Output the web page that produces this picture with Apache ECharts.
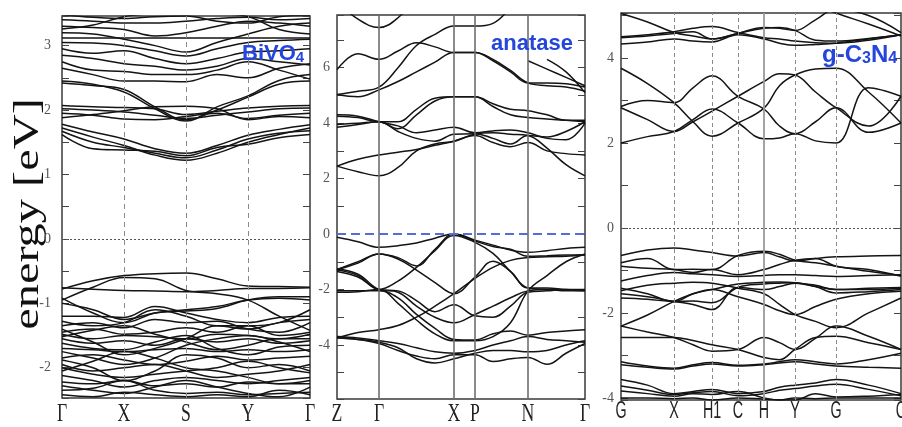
<!DOCTYPE html>
<html>
<head>
<meta charset="utf-8">
<title>Band structures</title>
<script src="https://cdn.jsdelivr.net/npm/echarts@6/dist/echarts.min.js"></script>
<style>
  html, body { margin: 0; padding: 0; background: #fff; }
  #chart { width: 902px; height: 427px; }
</style>
</head>
<body>
<div id="chart"></div>
<script>
// ---- BiVO4 : path Γ-X-S-Y-Γ ----
const bivoK = [0, 0.5, 1, 1.5, 2, 2.5, 3, 3.5, 4]
const bivoSym = [0, 1, 2, 3, 4]
const bivoLabels = ['Γ', 'X', 'S', 'Y', 'Γ']
const bivoCond = [
  [1.72, 1.58, 1.45, 1.30, 1.22, 1.33, 1.50, 1.62, 1.72],
  [1.67, 1.50, 1.42, 1.33, 1.26, 1.38, 1.55, 1.64, 1.68],
  [1.62, 1.40, 1.38, 1.36, 1.29, 1.42, 1.47, 1.57, 1.62],
  [1.78, 1.66, 1.55, 1.40, 1.33, 1.45, 1.61, 1.70, 1.77],
  [2.02, 2.00, 1.97, 1.92, 1.87, 1.92, 1.97, 2.02, 2.03],
  [1.95, 1.92, 1.86, 1.85, 1.90, 1.95, 1.87, 1.92, 1.95],
  [2.07, 2.05, 2.04, 2.02, 1.93, 1.98, 2.03, 2.06, 2.07],
  [1.88, 1.93, 1.99, 2.05, 2.06, 2.02, 1.85, 1.90, 1.88],
  [2.42, 2.38, 2.32, 2.05, 1.85, 2.00, 2.20, 2.40, 2.45],
  [2.45, 2.40, 2.28, 2.02, 1.83, 2.05, 2.22, 2.46, 2.55],
  [2.65, 2.55, 2.45, 2.45, 2.44, 2.55, 2.50, 2.65, 2.72],
  [2.75, 2.62, 2.60, 2.55, 2.55, 2.62, 2.75, 2.62, 2.48],
  [2.85, 2.80, 2.72, 2.68, 2.62, 2.68, 2.80, 2.75, 2.70],
  [2.95, 2.88, 2.92, 2.80, 2.72, 2.80, 2.90, 2.92, 2.95],
  [3.05, 3.04, 3.00, 2.92, 2.84, 2.95, 3.05, 3.08, 3.10],
  [3.12, 3.12, 3.12, 3.12, 3.12, 3.12, 3.12, 3.12, 3.12],
  [3.20, 3.18, 3.10, 3.00, 2.90, 3.05, 3.18, 3.30, 3.35],
  [3.30, 3.28, 3.25, 3.15, 3.20, 3.30, 3.38, 3.35, 3.30],
  [3.40, 3.38, 3.35, 3.35, 3.38, 3.42, 3.44, 3.40, 3.42],
  [3.48, 3.44, 3.42, 3.45, 3.46, 3.38, 3.35, 3.45, 3.47],
  [3.26, 3.32, 3.45, 3.50, 3.55, 3.50, 3.45, 3.25, 3.18]
]
const bivoVal = [
  [-0.78, -0.65, -0.57, -0.54, -0.53, -0.62, -0.73, -0.74, -0.75],
  [-0.76, -0.78, -0.80, -0.81, -0.82, -0.80, -0.77, -0.77, -0.76],
  [-0.95, -0.75, -0.60, -0.62, -0.80, -0.85, -0.95, -1.20, -1.42],
  [-0.92, -1.15, -1.30, -1.15, -1.10, -1.05, -0.95, -0.92, -0.95],
  [-1.00, -1.10, -1.25, -1.15, -1.12, -1.08, -0.95, -0.90, -0.90],
  [-1.20, -1.20, -1.22, -1.05, -1.15, -1.25, -1.30, -1.22, -1.20],
  [-1.28, -1.35, -1.30, -1.10, -1.20, -1.35, -1.35, -1.30, -1.10],
  [-1.35, -1.30, -1.38, -1.25, -1.30, -1.28, -1.40, -1.45, -1.30],
  [-1.45, -1.40, -1.48, -1.45, -1.38, -1.45, -1.35, -1.50, -1.45],
  [-1.48, -1.55, -1.50, -1.52, -1.55, -1.48, -1.50, -1.55, -1.48],
  [-1.55, -1.62, -1.58, -1.65, -1.55, -1.60, -1.55, -1.62, -1.58],
  [-1.62, -1.70, -1.72, -1.60, -1.50, -1.70, -1.80, -1.68, -1.65],
  [-1.70, -1.72, -1.75, -1.72, -1.70, -1.75, -1.72, -1.75, -1.72],
  [-1.75, -1.85, -1.95, -1.85, -1.65, -1.55, -1.50, -1.60, -1.75],
  [-1.85, -1.80, -1.88, -1.95, -1.90, -1.82, -1.88, -1.85, -1.82],
  [-1.88, -2.00, -2.20, -2.05, -1.80, -1.85, -2.00, -1.95, -2.05],
  [-1.95, -2.05, -2.00, -1.95, -2.05, -2.15, -2.10, -2.05, -1.95],
  [-2.00, -2.10, -2.15, -2.10, -2.05, -2.00, -1.90, -2.00, -2.08],
  [-2.12, -2.20, -2.30, -2.20, -2.15, -2.20, -2.25, -2.20, -2.15],
  [-2.22, -2.25, -2.20, -2.28, -2.25, -2.30, -2.22, -2.25, -2.25],
  [-2.28, -2.35, -2.40, -2.30, -2.20, -2.30, -2.40, -2.45, -2.30],
  [-2.35, -2.32, -2.20, -2.35, -2.40, -2.38, -2.42, -2.40, -2.38],
  [-2.42, -2.45, -2.38, -2.42, -2.45, -2.42, -2.45, -2.35, -2.42],
  [-1.40, -1.60, -1.80, -1.70, -1.55, -1.35, -1.40, -1.30, -1.25],
  [-1.52, -1.42, -1.35, -1.48, -1.60, -1.72, -1.65, -1.55, -1.55],
  [-2.05, -1.90, -1.75, -1.85, -2.00, -2.05, -2.15, -2.25, -2.20]
]

// ---- anatase : path Z-Γ-X-P-N-Γ ----
const anaK = [0, 0.21, 0.42, 0.61, 0.795, 0.98, 1.17, 1.38, 1.56, 1.735, 1.91, 2.10, 2.29, 2.48]
const anaSym = [0, 0.42, 1.17, 1.38, 1.91, 2.48]
const anaLabels = ['Z', 'Γ', 'X', 'P', 'N', 'Γ']
const anaCond = [
  [2.45, 2.25, 2.10, 2.40, 3.00, 3.25, 3.35, 3.60, 3.65, 3.60, 3.55, 3.10, 2.50, 2.10],
  [2.45, 2.70, 2.85, 2.95, 3.05, 3.20, 3.35, 3.55, 3.30, 3.15, 3.30, 3.00, 2.90, 2.85],
  [3.85, 3.95, 4.05, 3.70, 3.45, 3.35, 3.60, 3.62, 3.45, 3.25, 3.55, 3.50, 3.70, 4.05],
  [4.30, 4.25, 4.05, 3.90, 3.65, 3.75, 3.85, 3.65, 3.72, 3.75, 3.65, 3.45, 3.40, 4.00],
  [4.25, 4.20, 4.05, 4.05, 4.50, 4.90, 4.95, 4.95, 4.60, 4.30, 4.20, 4.15, 4.10, 4.05],
  [3.95, 4.00, 4.05, 3.80, 4.30, 4.80, 4.95, 4.95, 4.70, 4.50, 4.45, 4.30, 4.10, 4.10],
  [5.93, 6.50, 6.30, 6.60, 6.90, 6.75, 6.55, 6.55, 6.30, 5.90, 5.45, 5.35, 5.30, 5.15],
  [5.03, 5.15, 5.30, 6.00, 6.80, 7.20, 7.50, 7.50, 7.60, 8.20, null, null, null, null],
  [5.03, 4.95, 5.20, 5.50, 5.85, 6.20, 6.55, 6.55, 6.25, 5.85, 5.45, 5.45, 5.42, 5.30],
  [null, null, null, null, null, null, null, null, null, null, 6.25, 5.95, 5.65, 5.35],
  [null, null, null, null, null, null, null, null, null, null, null, 6.30, 5.85, 5.10],
  [8.40, 7.75, 7.45, 7.80, 8.60, null, null, null, null, null, null, null, null, null]
]
const anaVal = [
  [-0.12, -0.28, -0.48, -0.42, -0.32, -0.15, 0.00, -0.22, -0.40, -0.58, -0.66, -0.60, -0.52, -0.48],
  [-1.28, -1.00, -0.72, -0.85, -1.15, -0.55, 0.00, -0.25, -0.45, -0.55, -0.80, -0.78, -0.76, -0.75],
  [-1.30, -1.05, -0.72, -0.90, -1.30, -1.75, -2.15, -1.55, -0.98, -1.35, -1.95, -1.95, -2.00, -2.02],
  [-1.35, -1.55, -2.00, -2.05, -2.40, -2.80, -2.55, -2.95, -3.00, -2.60, -2.10, -2.05, -2.00, -2.00],
  [-2.05, -2.05, -2.05, -2.30, -2.90, -3.40, -3.80, -3.82, -3.60, -3.50, -3.65, -3.55, -3.50, -3.45],
  [-2.10, -2.08, -2.00, -2.50, -3.10, -3.60, -3.85, -3.85, -3.70, -3.20, -2.05, -1.50, -1.00, -0.72],
  [-3.75, -3.55, -3.45, -3.30, -3.00, -2.60, -2.15, -1.60, -1.20, -0.95, -0.85, -0.82, -0.80, -0.76],
  [-3.75, -3.80, -3.90, -4.10, -4.50, -4.65, -4.50, -4.30, -4.20, -4.20, -4.25, -4.20, -4.00, -3.85],
  [-3.72, -3.80, -3.95, -4.20, -4.40, -4.50, -4.35, -4.35, -4.60, -4.50, -4.45, -4.70, -4.30, -3.95],
  [-3.70, -3.75, -3.85, -3.95, -4.10, -4.25, -4.30, -4.20, -4.00, -3.85, -3.70, -3.80, -3.85, -3.90],
  [-1.25, -1.45, -2.00, -2.10, -2.60, -3.00, -3.20, -2.90, -2.60, -2.30, -2.05, -2.00, -2.05, -2.05],
  [-1.30, -1.50, -2.00, -1.70, -1.20, -0.60, -0.05, -0.30, -0.70, -1.35, -1.95, -2.00, -2.02, -2.05]
]

// ---- g-C3N4 : path G-X-H1-C-H-Y-G-C ----
const gcnK = [0, 0.265, 0.53, 0.72, 0.91, 1.17, 1.43, 1.585, 1.74, 1.945, 2.15, 2.475, 2.80]
const gcnSym = [0, 0.53, 0.91, 1.17, 1.43, 1.74, 2.15, 2.80]
const gcnLabels = ['G', 'X', 'H1', 'C', 'H', 'Y', 'G', 'C']
const gcnCond = [
  [3.76, 3.40, 2.95, 2.50, 2.16, 2.47, 2.82, 3.35, 3.60, 3.74, 3.76, 3.20, 2.47],
  [2.86, 3.00, 2.95, 3.30, 3.58, 3.10, 2.80, 2.40, 2.22, 2.50, 2.83, 2.25, 2.47],
  [2.83, 2.55, 2.27, 2.50, 2.75, 3.10, 3.45, 3.63, 3.60, 3.20, 2.83, 2.40, 3.10],
  [2.00, 2.15, 2.27, 2.55, 2.80, 2.47, 2.10, 2.12, 2.22, 2.05, 2.00, 3.30, 3.10],
  [5.05, 4.85, 4.60, 4.52, 4.45, 4.58, 4.72, 4.70, 4.65, 4.90, 5.15, 5.00, 4.60],
  [4.50, 4.55, 4.62, 4.70, 4.74, 4.60, 4.48, 4.45, 4.40, 4.36, 4.35, 4.42, 4.55],
  [4.48, 4.52, 4.58, 4.62, 4.45, 4.58, 4.70, 4.72, 4.65, 4.42, 4.40, 4.46, 4.55],
  [4.33, 4.38, 4.45, 4.40, 4.38, 4.55, 4.45, 4.35, 4.30, 4.32, 4.35, 4.45, 4.55],
  [null, null, null, null, null, null, null, null, 5.60, 5.25, 5.06, 4.80, 4.52]
]
const gcnVal = [
  [-0.65, -0.52, -0.47, -0.52, -0.58, -0.66, -0.58, -0.68, -0.78, -0.72, -0.68, -0.66, -0.65],
  [-0.82, -0.72, -0.98, -0.97, -0.98, -0.65, -0.55, -0.62, -0.76, -0.82, -0.90, -1.02, -1.12],
  [-0.90, -0.95, -0.98, -1.05, -0.98, -1.10, -0.98, -0.86, -0.76, -0.72, -0.90, -0.98, -1.14],
  [-1.25, -1.12, -1.05, -1.08, -1.10, -1.14, -1.12, -1.10, -1.10, -1.12, -1.14, -1.12, -1.10],
  [-1.48, -1.35, -1.30, -1.28, -1.30, -1.42, -1.55, -1.80, -2.04, -2.20, -2.35, -2.00, -1.65],
  [-1.42, -1.55, -1.73, -1.72, -1.76, -1.40, -1.32, -1.30, -1.29, -1.38, -1.53, -1.50, -1.45],
  [-1.65, -1.68, -1.73, -1.55, -1.45, -1.62, -1.80, -1.95, -2.04, -1.85, -1.68, -1.55, -1.49],
  [-1.55, -1.62, -1.73, -1.80, -1.92, -1.40, -1.45, -1.38, -1.30, -1.35, -1.45, -1.45, -1.42],
  [-2.31, -2.05, -1.73, -1.55, -1.45, -1.32, -1.28, -1.27, -1.29, -1.38, -1.45, -1.42, -1.40],
  [-2.31, -2.45, -2.58, -2.75, -2.90, -2.86, -2.58, -2.70, -2.86, -2.60, -2.31, -2.55, -2.86],
  [-2.58, -2.58, -2.58, -2.65, -2.75, -2.86, -3.05, -3.10, -2.86, -2.58, -2.55, -2.70, -2.86],
  [-3.15, -3.25, -3.30, -3.22, -3.17, -3.23, -3.20, -3.15, -3.10, -3.15, -3.20, -3.10, -2.95],
  [-3.22, -3.28, -3.32, -3.25, -3.20, -3.25, -3.22, -3.18, -3.15, -3.20, -3.25, -3.28, -3.30],
  [-3.57, -3.70, -3.90, -3.85, -3.80, -3.90, -3.85, -3.75, -3.70, -3.65, -3.57, -3.70, -3.90],
  [-3.72, -3.82, -3.92, -3.88, -3.85, -3.95, -3.90, -3.82, -3.78, -3.72, -3.68, -3.80, -3.95],
  [-3.84, -3.90, -3.96, -3.90, -3.92, -3.85, -4.00, -4.05, -4.05, -3.90, -3.98, -3.96, -3.92],
  [-4.00, -4.00, -4.02, -4.00, -4.05, -4.00, -4.03, -4.05, -4.00, -4.02, -4.00, -4.00, -4.00]
]

const yRanges = [[-2.47, 3.46], [-5.95, 7.9], [-4.05, 5.06]]
const ySplits = [6, 7, 5]

const SERIF = '"Liberation Serif", "Times New Roman", serif'
const SANS = '"Liberation Sans", Arial, sans-serif'
const BLUE = '#2446dc'

const panels = [
  { k: bivoK, bands: bivoCond.concat(bivoVal), sym: bivoSym, labels: bivoLabels,
    grid: { left: 62, top: 16, width: 248, height: 382 }, labelMargin: 11,
    xFont: '26px ' + SERIF, xScale: 0.68, xOffset: 3 },
  { k: anaK, bands: anaCond.concat(anaVal), sym: anaSym, labels: anaLabels,
    grid: { left: 337, top: 15, width: 248, height: 384 }, labelMargin: 7,
    xFont: '26px ' + SERIF, xScale: 0.68, xOffset: 2 },
  { k: gcnK, bands: gcnCond.concat(gcnVal), sym: gcnSym, labels: gcnLabels,
    grid: { left: 621, top: 13, width: 280, height: 387 }, labelMargin: 7,
    xFont: '23px ' + SANS, xScale: 0.62, xOffset: 0 }
]

const grids = panels.map(p => Object.assign({
  show: true, borderColor: '#3a3a3a', borderWidth: 1.5, backgroundColor: 'transparent'
}, p.grid))

const xAxes = panels.map((p, i) => ({
  type: 'value', gridIndex: i, min: 0, max: p.k[p.k.length - 1],
  axisLine: { show: false }, axisTick: { show: false },
  splitLine: { show: false }, axisLabel: { show: false }
}))

function yAxis (i, pos) {
  return {
    type: 'value', gridIndex: i, position: pos,
    min: yRanges[i][0], max: yRanges[i][1], splitNumber: ySplits[i],
    axisLine: { show: false },
    splitLine: { show: false },
    axisTick: { inside: true, length: 7, lineStyle: { color: '#444', width: 1 } },
    minorTick: { show: true, splitNumber: 2, length: 7, lineStyle: { color: '#444', width: 1 } },
    axisLabel: pos === 'left' ? {
      show: true, showMinLabel: false, showMaxLabel: false,
      color: '#555', fontFamily: SERIF, fontSize: 14, margin: panels[i].labelMargin
    } : { show: false }
  }
}
const yAxes = [0, 1, 2].map(i => yAxis(i, 'left')).concat([0, 1, 2].map(i => yAxis(i, 'right')))

const series = []

// high-symmetry vertical lines and the zero line
function refLines (i, xs, style, zeroStyle) {
  const data = xs.map(v => ({ xAxis: v }))
  if (zeroStyle) data.push({ yAxis: 0, lineStyle: zeroStyle })
  series.push({
    type: 'line', xAxisIndex: i, yAxisIndex: i, data: [], z: 1,
    markLine: {
      silent: true, animation: false, symbol: ['none', 'none'],
      label: { show: false }, lineStyle: style, data: data
    }
  })
}
refLines(0, bivoSym.slice(1, -1), { color: '#8a8a8a', width: 1, type: [5, 4] },
  { color: '#555', width: 1, type: [2, 2] })
refLines(1, anaSym.slice(1, -1), { color: '#6e6e6e', width: 1.6, type: 'solid' },
  { color: '#5a6ad8', width: 1.8, type: [9, 5] })
refLines(2, [0.53, 0.91, 1.17, 1.74, 2.15], { color: '#8a8a8a', width: 1, type: [4, 3] },
  { color: '#555', width: 1, type: [2, 2] })
refLines(2, [1.43], { color: '#999', width: 1.8, type: 'solid' }, null)

// bands
panels.forEach((p, i) => {
  p.bands.forEach(b => {
    series.push({
      type: 'line', xAxisIndex: i, yAxisIndex: i, z: 3,
      data: p.k.map((x, j) => [x, b[j]]).filter(d => d[1] !== null),
      smooth: 0.4, symbol: 'none', silent: true, animation: false,
      lineStyle: { color: '#141414', width: 1.5 }
    })
  })
})

function richTitle (text, left, top, size) {
  return {
    text: text, left: left, top: top, padding: 0,
    textStyle: {
      rich: {
        m: { fontFamily: SANS, fontWeight: 'bold', fontSize: size, color: BLUE, lineHeight: size + 6, verticalAlign: 'bottom' },
        s: { fontFamily: SANS, fontWeight: 'bold', fontSize: Math.round(size * 0.68), color: BLUE, lineHeight: Math.round(size * 0.6), verticalAlign: 'bottom' }
      }
    }
  }
}

const chart = echarts.init(document.getElementById('chart'), null, { renderer: 'canvas' })
chart.setOption({
  backgroundColor: '#fff',
  animation: false,
  title: [
    richTitle('{m|BiVO}{s|4}', 242, 37, 22),
    richTitle('{m|anatase}', 491, 27, 22),
    richTitle('{m|g-C}{s|3}{m|N}{s|4}', 822, 37, 24)
  ],
  grid: grids,
  xAxis: xAxes,
  yAxis: yAxes,
  series: series
})

// k-point labels under each panel, placed through the axis scales
const texts = [{
  type: 'text', x: 29, y: 214, rotation: Math.PI / 2, scaleX: 1.1, scaleY: 0.8,
  style: { text: 'energy [eV]', font: '44px ' + SERIF, fill: '#111', align: 'center', verticalAlign: 'middle' }
}]
panels.forEach((p, i) => {
  p.sym.forEach((v, j) => {
    const pt = chart.convertToPixel({ xAxisIndex: i, yAxisIndex: i }, [v, yRanges[i][0]])
    texts.push({
      type: 'text', x: pt[0], y: pt[1] + p.xOffset, scaleX: p.xScale,
      style: { text: p.labels[j], font: p.xFont, fill: '#222', align: 'center', verticalAlign: 'top' }
    })
  })
})
chart.setOption({ graphic: texts })
</script>
</body>
</html>
